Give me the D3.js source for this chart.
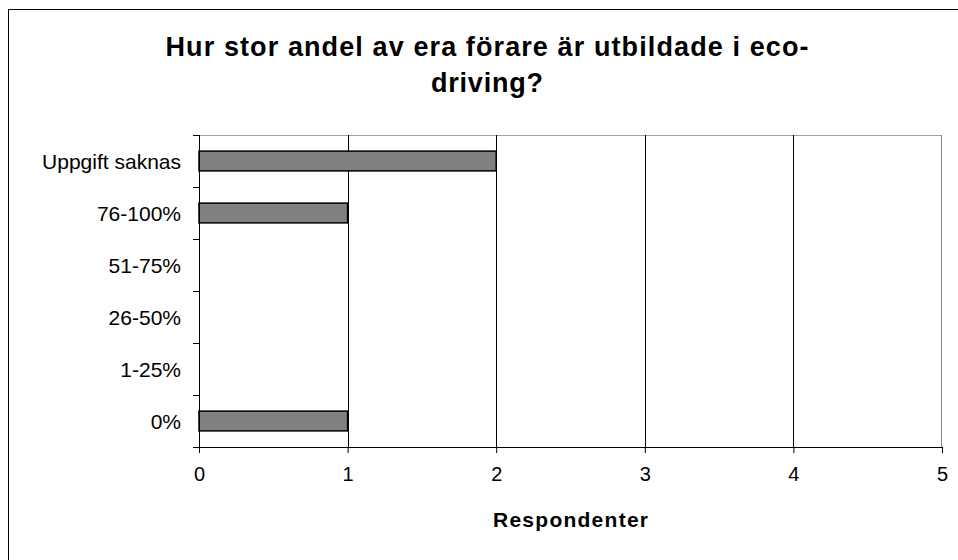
<!DOCTYPE html>
<html>
<head>
<meta charset="utf-8">
<script src="https://cdn.jsdelivr.net/npm/d3@7"></script>
<style>
  body { margin: 0; background: #fff; }
  text { font-family: Arial, "Liberation Sans", sans-serif; fill: #000; }
</style>
</head>
<body>
<div id="chart"></div>
<script>
const categories = ['Uppgift saknas', '76-100%', '51-75%', '26-50%', '1-25%', '0%'];
const values = [2, 1, 0, 0, 0, 1];
const xTicks = [0, 1, 2, 3, 4, 5];
const titleLines = ['Hur stor andel av era förare är utbildade i eco-', 'driving?'];
const xLabel = 'Respondenter';

const margin = { top: 135, right: 16, bottom: 113, left: 199 };
const width = 958 - margin.left - margin.right;
const height = 560 - margin.top - margin.bottom;

const svg = d3.select('#chart').append('svg')
  .attr('width', 958)
  .attr('height', 560);

// outer frame (right/bottom run off the picture)
svg.append('rect')
  .attr('x', 8.5)
  .attr('y', 9.5)
  .attr('width', 960)
  .attr('height', 560)
  .attr('fill', 'none')
  .attr('stroke', '#000');

svg.selectAll('.title')
  .data(titleLines)
  .enter().append('text')
  .attr('class', 'title')
  .attr('x', 487)
  .attr('y', (d, i) => 56 + i * 35.5)
  .attr('text-anchor', 'middle')
  .attr('font-size', 27)
  .attr('font-weight', 'bold')
  .attr('textLength', (d, i) => (i === 0 ? 643 : 112))
  .attr('lengthAdjust', 'spacing')
  .text(d => d);

const g = svg.append('g')
  .attr('transform', `translate(${margin.left},${margin.top})`);

const xScale = d3.scaleLinear()
  .domain([0, 5])
  .range([0, width]);

const yScale = d3.scaleBand()
  .domain(categories)
  .range([0, height]);

// plot frame: grey top and right
g.append('line')
  .attr('x1', 0).attr('x2', width)
  .attr('y1', 0.5).attr('y2', 0.5)
  .attr('stroke', '#a0a0a0');
g.append('line')
  .attr('x1', width - 0.5).attr('x2', width - 0.5)
  .attr('y1', 0).attr('y2', height)
  .attr('stroke', '#888');

// gridlines
g.selectAll('.grid')
  .data(xTicks.slice(1, -1))
  .enter().append('line')
  .attr('class', 'grid')
  .attr('x1', d => Math.round(xScale(d)) + 0.5)
  .attr('x2', d => Math.round(xScale(d)) + 0.5)
  .attr('y1', 0)
  .attr('y2', height)
  .attr('stroke', '#000');

// bars
const barH = yScale.bandwidth() * 0.38;
g.selectAll('.bar')
  .data(categories.map((c, i) => ({ c, v: values[i] })).filter(d => d.v > 0))
  .enter().append('rect')
  .attr('class', 'bar')
  .attr('x', xScale(0))
  .attr('y', d => yScale(d.c) + (yScale.bandwidth() - barH) / 2)
  .attr('width', d => xScale(d.v) - xScale(0))
  .attr('height', barH)
  .attr('fill', '#808080')
  .attr('stroke', '#000')
  .attr('stroke-width', 1.5);

// y axis: line + ticks at band edges
const yEdges = categories.map(c => yScale(c)).concat([height]);
g.append('line')
  .attr('x1', 0.5).attr('x2', 0.5)
  .attr('y1', 0).attr('y2', height)
  .attr('stroke', '#000');
g.selectAll('.ytick')
  .data(yEdges)
  .enter().append('line')
  .attr('class', 'ytick')
  .attr('x1', -6).attr('x2', 0)
  .attr('y1', d => Math.round(d) + 0.5)
  .attr('y2', d => Math.round(d) + 0.5)
  .attr('stroke', '#000');
g.selectAll('.ylabel')
  .data(categories)
  .enter().append('text')
  .attr('class', 'ylabel')
  .attr('x', -18)
  .attr('y', d => yScale(d) + yScale.bandwidth() / 2)
  .attr('dy', '0.36em')
  .attr('text-anchor', 'end')
  .attr('font-size', 21)
  .text(d => d);

// x axis
const xAxis = d3.axisBottom(xScale)
  .tickValues(xTicks)
  .tickFormat(d3.format('d'))
  .tickSize(6)
  .tickPadding(14);
const xg = g.append('g')
  .attr('transform', `translate(0,${height})`)
  .call(xAxis);
xg.select('.domain').attr('stroke', '#000');
xg.selectAll('.tick line').attr('stroke', '#000');
xg.selectAll('.tick text')
  .attr('font-size', 20)
  .attr('font-family', 'Arial, "Liberation Sans", sans-serif')
  .attr('fill', '#000');

svg.append('text')
  .attr('x', margin.left + width / 2)
  .attr('y', 527)
  .attr('text-anchor', 'middle')
  .attr('font-size', 21)
  .attr('font-weight', 'bold')
  .attr('textLength', 155)
  .attr('lengthAdjust', 'spacing')
  .text(xLabel);
</script>
</body>
</html>
